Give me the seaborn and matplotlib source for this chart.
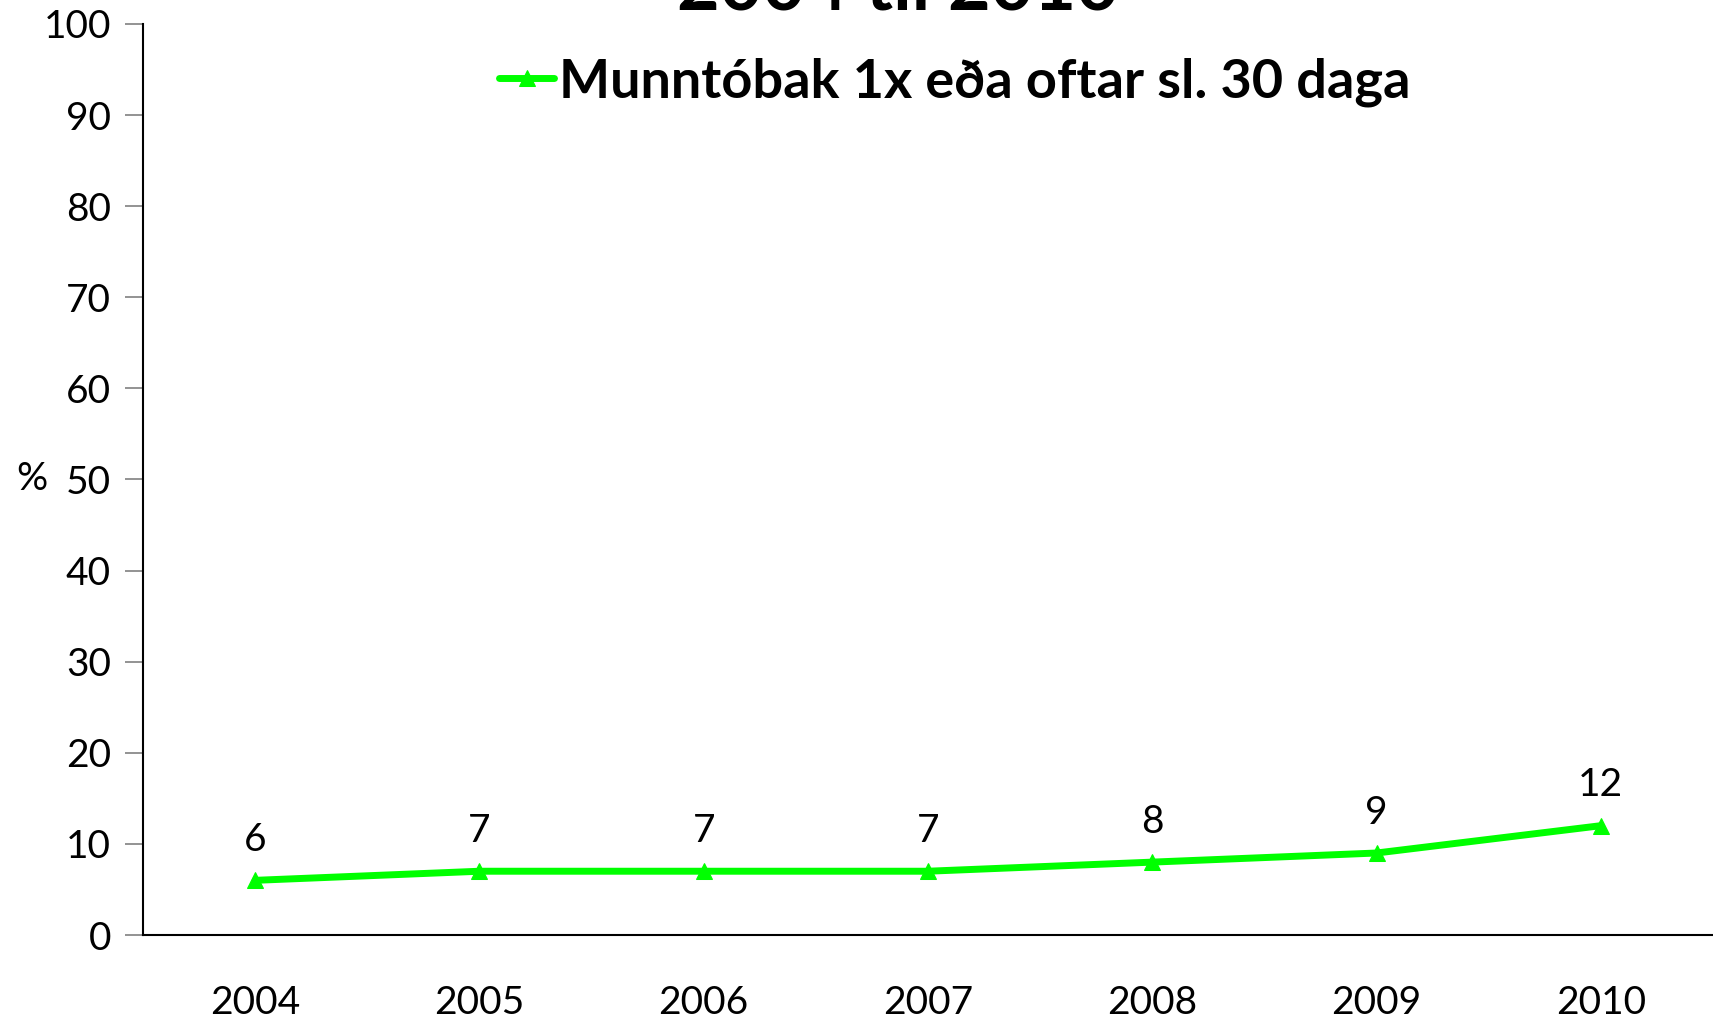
import matplotlib
matplotlib.use("Agg")
import matplotlib.pyplot as plt
import seaborn as sns
import pandas as pd
import numpy as np

years = ["2004", "2005", "2006", "2007", "2008", "2009", "2010"]
values = [6, 7, 7, 7, 8, 9, 12]
series_name = "Munntóbak 1x eða oftar sl. 30 daga"
title_text = "2004 til 2010"

sns.set_theme(style="white", rc={"text.color": "black", "axes.labelcolor": "black",
                                 "xtick.color": "black", "ytick.color": "black"})
plt.rcParams['font.family'] = ['Lato', 'DejaVu Sans']

df = pd.DataFrame({"pos": np.arange(len(years)), "value": values, "series": series_name})

W, H = 1713, 1021
fig = plt.figure(figsize=(W / 100, H / 100), dpi=100)
ax = fig.add_axes([143 / W, 1 - 935 / H, (W - 143) / W, (935 - 24) / H])

sns.lineplot(data=df, x="pos", y="value", hue="series", palette=["#00FF00"],
             marker="^", markersize=12, markeredgecolor="#00FF00",
             linewidth=5, ax=ax)

FS = 28
ax.set_xlim(-0.5, len(years) - 0.5)
ax.set_ylim(0, 100)
ax.set_yticks(range(0, 101, 10))
ax.set_yticklabels([str(v) for v in range(0, 101, 10)], fontsize=FS)
ax.set_xticks(np.arange(len(years)))
ax.set_xticklabels(years, fontsize=FS)
ax.set_xticks(np.arange(-0.5, len(years), 1.0), minor=True)
ax.tick_params(axis="x", which="major", length=0, pad=36, labelcolor="black")
ax.tick_params(axis="x", which="minor", length=13, color="#808080", width=1.2, direction="out")
ax.tick_params(axis="y", which="major", length=13, color="#808080", width=1.2, direction="out",
               pad=10, left=True, labelcolor="black")

for side in ["top", "right"]:
    ax.spines[side].set_visible(False)
for side in ["left", "bottom"]:
    ax.spines[side].set_color("black")
    ax.spines[side].set_linewidth(1.5)

ax.set_xlabel("")
ax.set_ylabel("%", fontsize=FS, rotation=0, va="center", ha="center", color="black")
ax.yaxis.set_label_coords(-0.071, 0.5)

for i, v in enumerate(values):
    ax.annotate(str(v), (i, v), xytext=(0, 16), textcoords="offset points",
                ha="center", va="bottom", fontsize=FS, color="black")

leg = ax.legend(loc="center", bbox_to_anchor=(955 / W, 1 - 82 / H),
                bbox_transform=fig.transFigure, frameon=False,
                prop={"size": 39, "weight": "bold"}, handlelength=1.0,
                handletextpad=0.1)
for t in leg.get_texts():
    t.set_color("black")

fig.text(0.524, 1 - 9 / H, title_text, ha="center", va="baseline",
         fontsize=53, fontweight="bold", color="black")

fig.savefig("out.png", dpi=100)
